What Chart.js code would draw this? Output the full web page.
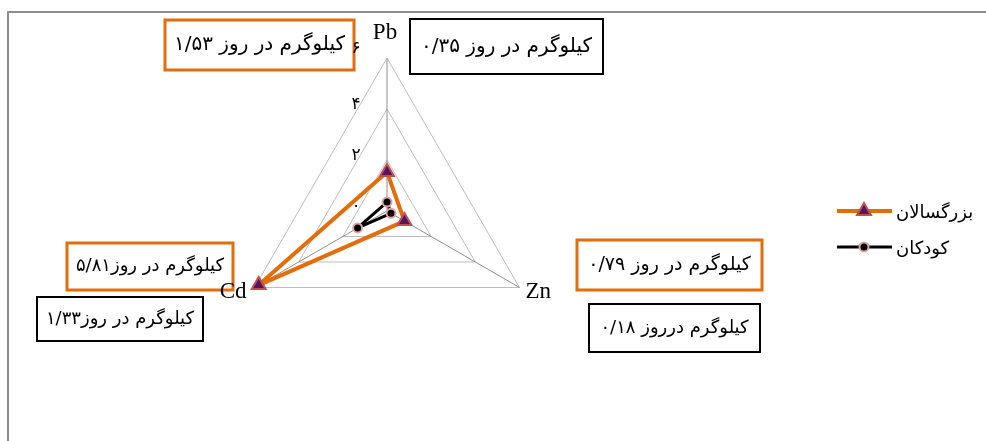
<!DOCTYPE html>
<html>
<head>
<meta charset="utf-8">
<script src="https://cdn.jsdelivr.net/npm/chart.js@4.4.1/dist/chart.umd.min.js"></script>
<style>
    html, body { margin: 0; padding: 0; background: #fff; }
    #wrap { position: relative; width: 986px; height: 441px; overflow: hidden; }
    #frame { position: absolute; left: 7px; top: 11px; width: 1000px; height: 500px; border-left: 2px solid #8c8c8c; border-top: 2px solid #8c8c8c; }
    #chart { position: absolute; left: 0; top: 0; }
</style>
</head>
<body>
<div id="wrap"><div id="frame"></div><canvas id="chart" width="986" height="441"></canvas></div>
<script>
// ============================================================
// DATA
// ============================================================
const metals = ['Pb', 'Zn', 'Cd'];
const seriesNames = ['بزرگسالان', 'کودکان'];
const adultValues = [1.53, 0.79, 5.81];
const childValues = [0.35, 0.18, 1.33];
const tickValues = [0, 2, 4, 6];
const tickLabels = ['۰', '۲', '۴', '۶'];
// note text per metal (Pb, Zn, Cd)
const adultNotes = ['کیلوگرم در روز ۱/۵۳', 'کیلوگرم در روز ۰/۷۹', 'کیلوگرم در روز۵/۸۱'];
const childNotes = ['کیلوگرم در روز ۰/۳۵', 'کیلوگرم درروز ۰/۱۸', 'کیلوگرم در روز۱/۳۳'];

// ============================================================
// LAYOUT / STYLE
// ============================================================
const ORANGE = '#E46C0A';
const PERSIAN_FONT = '"DejaVu Sans", "Noto Sans", sans-serif';
const adultBoxes = [
    { x: 165, y: 20, w: 189, h: 50 },
    { x: 577, y: 240, w: 185, h: 50 },
    { x: 67, y: 243, w: 166, h: 47 }
];
const childBoxes = [
    { x: 410, y: 19, w: 193, h: 55 },
    { x: 589, y: 304, w: 171, h: 48 },
    { x: 37, y: 297, w: 166, h: 44 }
];

function drawNote(ctx, box, text, color, lineWidth) {
    ctx.save();
    ctx.fillStyle = '#fff';
    ctx.fillRect(box.x, box.y, box.w, box.h);
    ctx.strokeStyle = color;
    ctx.lineWidth = lineWidth;
    ctx.strokeRect(box.x, box.y, box.w, box.h);
    ctx.direction = 'rtl';
    ctx.textAlign = 'center';
    ctx.textBaseline = 'middle';
    ctx.fillStyle = '#000';
    let size = 20;
    ctx.font = size + 'px ' + PERSIAN_FONT;
    const w = ctx.measureText(text).width;
    if (w > box.w - 16) {
        size = Math.floor(size * (box.w - 16) / w);
        ctx.font = size + 'px ' + PERSIAN_FONT;
    }
    ctx.fillText(text, box.x + box.w / 2, box.y + box.h / 2);
    ctx.restore();
}

const decorPlugin = {
    id: 'radarDecor',
    afterDraw(chart) {
        const ctx = chart.ctx;
        const r = chart.scales.r;

        // value notes
        adultNotes.forEach((t, i) => drawNote(ctx, adultBoxes[i], t, ORANGE, 3));
        childNotes.forEach((t, i) => drawNote(ctx, childBoxes[i], t, '#000', 2));

        // tick labels, left of the Pb axis
        ctx.save();
        ctx.font = '17px ' + PERSIAN_FONT;
        ctx.fillStyle = '#000';
        ctx.textAlign = 'center';
        ctx.textBaseline = 'middle';
        tickValues.forEach((v, i) => {
            const y = r.yCenter - r.getDistanceFromCenterForValue(v);
            ctx.fillText(tickLabels[i], r.xCenter - 31, y - (v === 6 ? 9 : 4));
        });
        ctx.restore();

        // axis names
        ctx.save();
        ctx.font = '23px "Liberation Serif", "DejaVu Serif", serif';
        ctx.fillStyle = '#000';
        metals.forEach((name, i) => {
            const p = r.getPointPosition(i, r.drawingArea);
            if (Math.abs(p.x - r.xCenter) < 1) {
                ctx.textAlign = 'center';
                ctx.textBaseline = 'bottom';
                ctx.fillText(name, p.x - 2, p.y - 14);
            } else if (p.x > r.xCenter) {
                ctx.textAlign = 'left';
                ctx.textBaseline = 'middle';
                ctx.fillText(name, p.x + 6, p.y + 4);
            } else {
                ctx.textAlign = 'right';
                ctx.textBaseline = 'middle';
                ctx.fillText(name, p.x - 8, p.y + 4);
            }
        });
        ctx.restore();

        // legend
        ctx.save();
        chart.data.datasets.forEach((ds, i) => {
            const y = 211 + i * 36;
            ctx.strokeStyle = ds.borderColor;
            ctx.lineWidth = ds.borderWidth;
            ctx.beginPath();
            ctx.moveTo(837, y);
            ctx.lineTo(892, y);
            ctx.stroke();
            ctx.fillStyle = ds.pointBackgroundColor;
            ctx.strokeStyle = ds.pointBorderColor;
            ctx.lineWidth = ds.pointBorderWidth;
            Chart.helpers.drawPoint(ctx, { pointStyle: ds.pointStyle, radius: ds.pointRadius, borderWidth: ds.pointBorderWidth, rotation: 0 }, 864, y);
            ctx.fillStyle = '#000';
            ctx.font = '18px ' + PERSIAN_FONT;
            ctx.direction = 'rtl';
            ctx.textAlign = 'left';
            ctx.textBaseline = 'middle';
            ctx.fillText(ds.label, 896, y + 2);
        });
        ctx.restore();
    }
};

new Chart(document.getElementById('chart').getContext('2d'), {
    type: 'radar',
    data: {
        labels: metals,
        datasets: [
            {
                label: seriesNames[0],
                data: adultValues,
                borderColor: ORANGE,
                borderWidth: 4,
                borderJoinStyle: 'round',
                backgroundColor: 'transparent',
                fill: false,
                pointStyle: 'triangle',
                pointRadius: 8,
                pointHoverRadius: 8,
                pointBorderWidth: 2,
                pointBackgroundColor: '#561463',
                pointBorderColor: '#C0504D'
            },
            {
                label: seriesNames[1],
                data: childValues,
                borderColor: '#000',
                borderWidth: 3,
                borderJoinStyle: 'round',
                backgroundColor: 'transparent',
                fill: false,
                pointStyle: 'circle',
                pointRadius: 4.5,
                pointHoverRadius: 4.5,
                pointBorderWidth: 2,
                pointBackgroundColor: '#000',
                pointBorderColor: '#E3A3A3'
            }
        ]
    },
    options: {
        responsive: false,
        devicePixelRatio: 1,
        animation: false,
        layout: { padding: { left: 234, right: 446, top: 58, bottom: 77 } },
        plugins: { legend: { display: false }, tooltip: { enabled: false } },
        scales: {
            r: {
                min: 0,
                max: 6,
                ticks: { stepSize: 2, display: false },
                pointLabels: { display: false },
                grid: { color: '#bdbdbd', lineWidth: 1 },
                angleLines: { color: '#8f8f8f', lineWidth: 1 }
            }
        }
    },
    plugins: [decorPlugin]
});
</script>
</body>
</html>
